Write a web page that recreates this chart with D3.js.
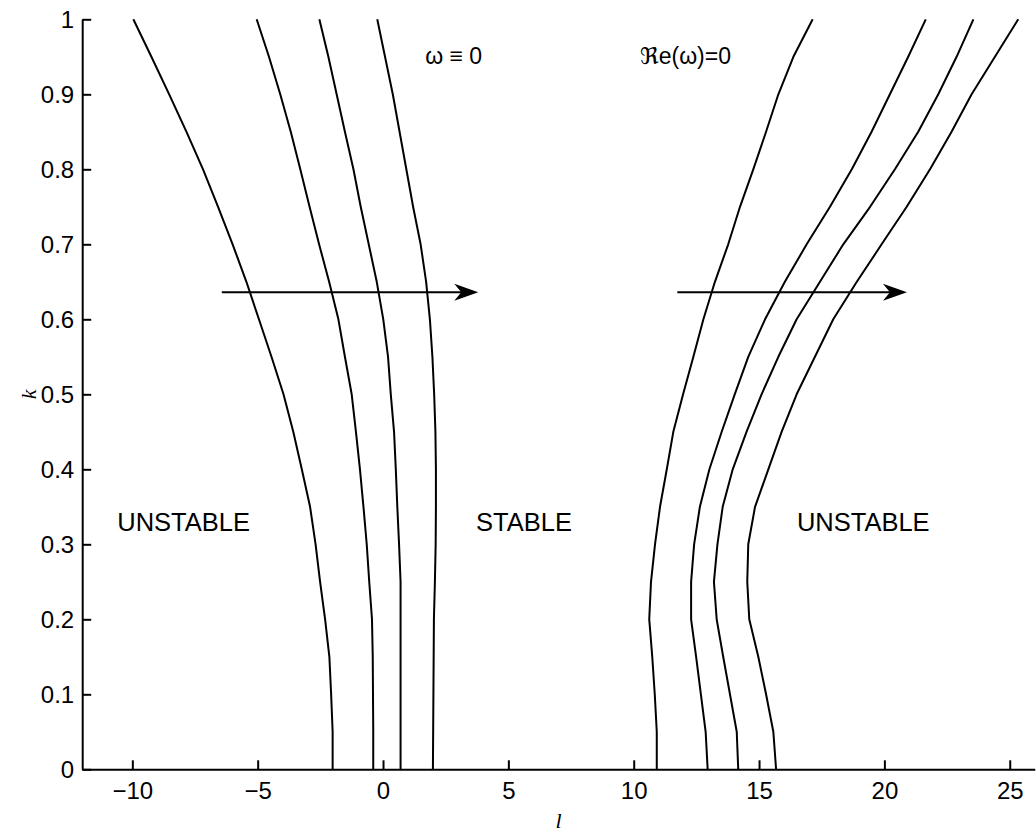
<!DOCTYPE html>
<html>
<head>
<meta charset="utf-8">
<script src="https://cdn.jsdelivr.net/npm/d3@7"></script>
<style>
  html, body { margin: 0; padding: 0; background: #fff; }
  svg { display: block; }
  text { font-family: "Liberation Sans", Arial, Helvetica, sans-serif; fill: #000; }
</style>
</head>
<body>
<svg id="chart" width="1036" height="836"></svg>
<script>
// Wavenumber k sampled along every stability boundary
const kValues = [0, 0.05, 0.1, 0.15, 0.2, 0.25, 0.3, 0.35, 0.4, 0.45, 0.5,
                 0.55, 0.6, 0.65, 0.7, 0.75, 0.8, 0.85, 0.9, 0.95, 1];

// omega == 0 boundaries (left family), l at each k
const zeroL1 = [-2.01, -2.01, -2.07, -2.14, -2.31, -2.51, -2.69, -2.91, -3.24, -3.58, -3.97,
                -4.45, -4.95, -5.45, -6.00, -6.58, -7.18, -7.84, -8.53, -9.24, -9.96];
const zeroL2 = [-0.39, -0.39, -0.40, -0.41, -0.44, -0.55, -0.65, -0.78, -0.92, -1.08, -1.25,
                -1.52, -1.78, -2.15, -2.55, -2.93, -3.30, -3.68, -4.10, -4.55, -5.04];
const zeroL3 = [0.70, 0.70, 0.70, 0.70, 0.70, 0.70, 0.64, 0.57, 0.51, 0.44, 0.31,
                0.20, 0.01, -0.25, -0.57, -0.89, -1.18, -1.52, -1.85, -2.18, -2.54];
const zeroL4 = [1.99, 2.00, 2.01, 2.02, 2.03, 2.07, 2.10, 2.11, 2.11, 2.09, 2.04,
                1.97, 1.87, 1.72, 1.50, 1.20, 0.93, 0.66, 0.39, 0.08, -0.23];

// Re(omega) == 0 boundaries (right family)
const reL1 = [10.92, 10.92, 10.84, 10.74, 10.62, 10.69, 10.85, 11.05, 11.32, 11.58, 11.97,
              12.38, 12.78, 13.24, 13.77, 14.24, 14.77, 15.28, 15.77, 16.37, 17.14];
const reL2 = [12.95, 12.87, 12.68, 12.49, 12.29, 12.29, 12.41, 12.64, 13.02, 13.51, 14.03,
              14.57, 15.24, 16.03, 16.90, 17.83, 18.70, 19.49, 20.22, 20.95, 21.65];
const reL3 = [14.17, 14.11, 13.84, 13.57, 13.31, 13.20, 13.34, 13.55, 13.95, 14.50, 15.10,
              15.77, 16.50, 17.43, 18.36, 19.43, 20.42, 21.35, 22.15, 22.88, 23.55];
const reL4 = [15.68, 15.57, 15.28, 14.97, 14.61, 14.53, 14.57, 14.84, 15.37, 15.90, 16.50,
              17.23, 17.96, 18.90, 19.89, 20.89, 21.82, 22.68, 23.48, 24.41, 25.34];

const curves = [zeroL1, zeroL2, zeroL3, zeroL4, reL1, reL2, reL3, reL4];

// Axis ticks
const xTicks = [-10, -5, 0, 5, 10, 15, 20, 25];
const yTicks = [0, 0.1, 0.2, 0.3, 0.4, 0.5, 0.6, 0.7, 0.8, 0.9, 1];

// Arrows showing the direction in which the boundaries shift: [l0, l1, k]
const arrowStarts = [-6.43, 11.74];
const arrowEnds = [3.80, 20.90];
const arrowK = [0.636, 0.636];

// Region and curve-family annotations: text, l, k
const noteText = ["UNSTABLE", "STABLE", "UNSTABLE", "\u03c9 \u2261 0", "\u211ce(\u03c9)=0"];
const noteL = [-10.6, 3.71, 16.51, 1.68, 10.25];
const noteK = [0.318, 0.318, 0.318, 0.940, 0.940];

const svg = d3.select("#chart");
const x = d3.scaleLinear().domain([-12, 26]).range([82.2, 1034.8]);
const y = d3.scaleLinear().domain([0, 1]).range([769.3, 19.3]);

const fmtY = d => d === 0 ? "0" : d === 1 ? "1" : d3.format(".1f")(d);
const fmtX = d => (d < 0 ? "\u2212" + Math.abs(d) : String(d));

// Axes with inward ticks, MATLAB style (no box)
const yAxis = svg.append("g")
  .attr("transform", `translate(${x(-12)},0)`)
  .call(d3.axisLeft(y).tickValues(yTicks).tickFormat(fmtY).tickSizeInner(-9).tickSizeOuter(0).tickPadding(8));
const xAxis = svg.append("g")
  .attr("transform", `translate(0,${y(0)})`)
  .call(d3.axisBottom(x).tickValues(xTicks).tickFormat(fmtX).tickSizeInner(-9).tickSizeOuter(0).tickPadding(13));

[xAxis, yAxis].forEach(g => {
  g.select(".domain").attr("stroke", "#000").attr("stroke-width", 2);
  g.selectAll(".tick line").attr("stroke", "#000").attr("stroke-width", 2);
  g.selectAll(".tick text")
    .attr("fill", "#000")
    .style("font-family", '"Liberation Sans", Arial, sans-serif')
    .style("font-size", "24px");
});
xAxis.selectAll(".tick text").attr("dy", "0.71em");
yAxis.selectAll(".tick text").attr("dy", "0.36em");

// Axis labels
svg.append("text")
  .attr("x", x(7)).attr("y", 828)
  .attr("text-anchor", "middle")
  .style("font-family", '"Liberation Serif", "DejaVu Serif", serif')
  .style("font-style", "italic")
  .style("font-size", "22px")
  .text("l");
svg.append("text")
  .attr("transform", `translate(36,${y(0.5)}) rotate(-90)`)
  .attr("text-anchor", "middle")
  .style("font-family", '"Liberation Serif", "DejaVu Serif", serif')
  .style("font-style", "italic")
  .style("font-size", "22px")
  .text("k");

// Boundary curves
const line = d3.line()
  .x(d => x(d[0]))
  .y(d => y(d[1]));
svg.append("g").selectAll("path")
  .data(curves)
  .join("path")
  .attr("d", ls => line(ls.map((l, i) => [l, kValues[i]])))
  .attr("fill", "none")
  .attr("stroke", "#000")
  .attr("stroke-width", 2)
  .attr("stroke-linejoin", "round");

// Arrows
const arrows = svg.append("g");
arrowStarts.forEach((s, i) => {
  const x0 = x(s), x1 = x(arrowEnds[i]), yy = y(arrowK[i]);
  arrows.append("line")
    .attr("x1", x0).attr("y1", yy)
    .attr("x2", x1 - 12).attr("y2", yy)
    .attr("stroke", "#000").attr("stroke-width", 2);
  arrows.append("path")
    .attr("d", `M${x1},${yy} L${x1 - 24},${yy - 8.5} L${x1 - 17},${yy} L${x1 - 24},${yy + 8.5} Z`)
    .attr("fill", "#000");
});

// Annotations
svg.append("g").selectAll("text")
  .data(noteText)
  .join("text")
  .attr("x", (d, i) => x(noteL[i]))
  .attr("y", (d, i) => y(noteK[i]))
  .style("font-family", '"Liberation Sans", "DejaVu Sans", Arial, sans-serif')
  .style("font-size", (d, i) => i < 3 ? "25.5px" : "23px")
  .text(d => d);
</script>
</body>
</html>
